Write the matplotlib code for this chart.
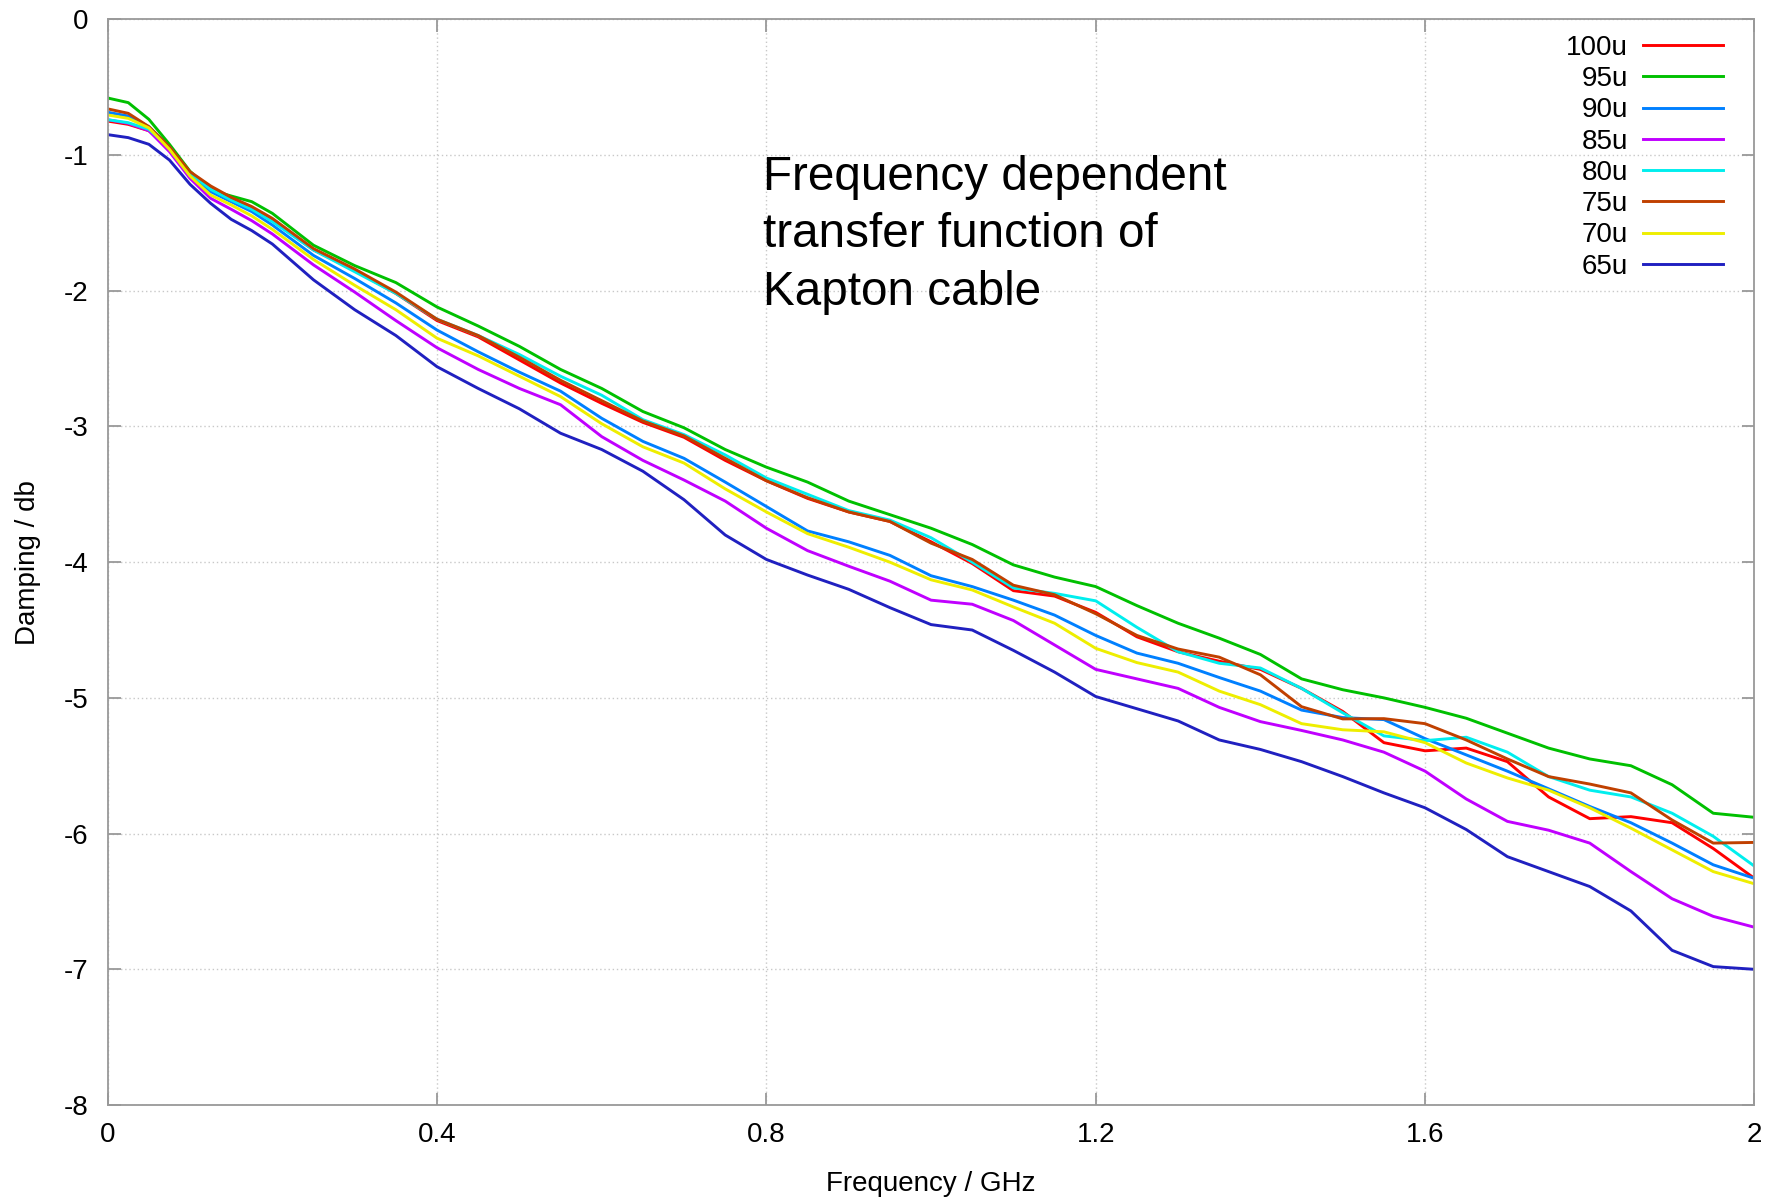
import numpy as np
import matplotlib
matplotlib.use("Agg")
import matplotlib.pyplot as plt

plt.rcParams['font.family'] = ['Liberation Sans', 'DejaVu Sans']
plt.rcParams['axes.unicode_minus'] = False

# frequency (GHz) the curves were read at: finer near the start
freq = [0, 0.025, 0.05, 0.075, 0.1, 0.125, 0.15, 0.175, 0.2,
        0.25, 0.3, 0.35, 0.4, 0.45, 0.5, 0.55, 0.6, 0.65, 0.7, 0.75,
        0.8, 0.85, 0.9, 0.95, 1.0, 1.05, 1.1, 1.15, 1.2, 1.25,
        1.3, 1.35, 1.4, 1.45, 1.5, 1.55, 1.6, 1.65, 1.7, 1.75,
        1.8, 1.85, 1.9, 1.95, 2.0]

d100 = [-0.75, -0.774, -0.821, -0.951, -1.13, -1.238, -1.32, -1.388, -1.479,
        -1.70, -1.85, -2.02, -2.22, -2.34, -2.51, -2.68, -2.83, -2.97, -3.08, -3.25,
        -3.40, -3.53, -3.63, -3.70, -3.85, -4.01, -4.21, -4.25, -4.37, -4.55,
        -4.66, -4.73, -4.79, -4.93, -5.10, -5.33, -5.39, -5.37, -5.47, -5.73,
        -5.89, -5.875, -5.92, -6.11, -6.33]
d95 = [-0.58, -0.614, -0.737, -0.921, -1.12, -1.258, -1.302, -1.344, -1.43,
       -1.665, -1.815, -1.94, -2.12, -2.26, -2.41, -2.58, -2.72, -2.89, -3.01, -3.17,
       -3.30, -3.41, -3.55, -3.65, -3.75, -3.87, -4.02, -4.11, -4.18, -4.32,
       -4.45, -4.56, -4.68, -4.86, -4.94, -5.00, -5.07, -5.15, -5.26, -5.37,
       -5.45, -5.50, -5.64, -5.85, -5.88]
d90 = [-0.685, -0.713, -0.791, -0.943, -1.14, -1.27, -1.344, -1.417, -1.516,
       -1.74, -1.91, -2.09, -2.29, -2.45, -2.60, -2.74, -2.94, -3.11, -3.235, -3.41,
       -3.59, -3.77, -3.85, -3.95, -4.10, -4.18, -4.28, -4.39, -4.54, -4.67,
       -4.745, -4.85, -4.95, -5.09, -5.145, -5.16, -5.30, -5.42, -5.54, -5.67,
       -5.80, -5.92, -6.07, -6.23, -6.33]
d85 = [-0.74, -0.767, -0.821, -0.975, -1.172, -1.319, -1.40, -1.484, -1.582,
       -1.81, -2.01, -2.22, -2.42, -2.58, -2.72, -2.84, -3.075, -3.25, -3.395, -3.55,
       -3.75, -3.915, -4.03, -4.14, -4.28, -4.31, -4.43, -4.61, -4.79, -4.86,
       -4.93, -5.07, -5.175, -5.24, -5.31, -5.40, -5.54, -5.745, -5.91, -5.975,
       -6.07, -6.28, -6.48, -6.61, -6.69]
d80 = [-0.74, -0.762, -0.811, -0.943, -1.135, -1.253, -1.332, -1.40, -1.491,
       -1.70, -1.86, -2.02, -2.21, -2.33, -2.47, -2.63, -2.77, -2.95, -3.06, -3.21,
       -3.38, -3.50, -3.62, -3.69, -3.82, -4.00, -4.19, -4.23, -4.285, -4.48,
       -4.66, -4.745, -4.78, -4.93, -5.11, -5.28, -5.315, -5.29, -5.40, -5.58,
       -5.68, -5.73, -5.85, -6.02, -6.24]
d75 = [-0.66, -0.693, -0.791, -0.939, -1.123, -1.228, -1.312, -1.38, -1.467,
       -1.69, -1.84, -2.01, -2.21, -2.33, -2.49, -2.66, -2.81, -2.96, -3.07, -3.235,
       -3.40, -3.525, -3.63, -3.70, -3.86, -3.98, -4.17, -4.24, -4.38, -4.54,
       -4.64, -4.70, -4.83, -5.065, -5.155, -5.153, -5.19, -5.31, -5.45, -5.58,
       -5.635, -5.70, -5.90, -6.07, -6.065]
d70 = [-0.705, -0.73, -0.80, -0.958, -1.155, -1.295, -1.368, -1.449, -1.548,
       -1.77, -1.96, -2.14, -2.35, -2.48, -2.63, -2.78, -2.98, -3.15, -3.27, -3.46,
       -3.63, -3.79, -3.89, -4.00, -4.13, -4.205, -4.33, -4.45, -4.635, -4.74,
       -4.81, -4.95, -5.05, -5.19, -5.235, -5.25, -5.33, -5.48, -5.59, -5.68,
       -5.81, -5.96, -6.12, -6.28, -6.37]
d65 = [-0.85, -0.872, -0.921, -1.037, -1.216, -1.356, -1.474, -1.557, -1.656,
       -1.92, -2.14, -2.33, -2.56, -2.72, -2.87, -3.05, -3.17, -3.33, -3.54, -3.80,
       -3.98, -4.095, -4.20, -4.335, -4.46, -4.50, -4.65, -4.81, -4.99, -5.08,
       -5.17, -5.31, -5.38, -5.47, -5.58, -5.70, -5.81, -5.97, -6.17, -6.28,
       -6.39, -6.57, -6.86, -6.98, -7.00]

labels = ['100u', '95u', '90u', '85u', '80u', '75u', '70u', '65u']
series = [d100, d95, d90, d85, d80, d75, d70, d65]
colors = ['#ff0000', '#00c000', '#0080ff', '#c000ff',
          '#00eeee', '#c04000', '#eeee00', '#2020c0']

xticks = [0, 0.4, 0.8, 1.2, 1.6, 2.0]
xticklabels = ['0', '0.4', '0.8', '1.2', '1.6', '2']
yticks = [0, -1, -2, -3, -4, -5, -6, -7, -8]
yticklabels = ['0', '-1', '-2', '-3', '-4', '-5', '-6', '-7', '-8']

fig = plt.figure(figsize=(17.77, 11.98), dpi=100)
ax = fig.add_axes([0.0606, 0.0776, 0.9267, 0.9063])

for lab, ys, c in zip(labels, series, colors):
    ax.plot(freq, ys, color=c, lw=2.1, label=lab, solid_joinstyle='round')

ax.set_xlim(0, 2)
ax.set_ylim(-8, 0)
ax.set_xticks(xticks)
ax.set_xticklabels(xticklabels)
ax.set_yticks(yticks)
ax.set_yticklabels(yticklabels)

ax.grid(True, color='#c8c8c8', linestyle=(0, (1, 2)), linewidth=1.0)
for sp in ax.spines.values():
    sp.set_color('#999999')
    sp.set_linewidth(1.3)
ax.tick_params(direction='in', length=9, width=1.3, color='#999999',
               top=True, right=True, labelsize=20)
ax.tick_params(axis='y', pad=14)
ax.tick_params(axis='x', pad=12)

ax.set_xlabel('Frequency / GHz', fontsize=20, labelpad=17)
ax.set_ylabel('Damping / db', fontsize=20, labelpad=16)

ax.text(0.398, 0.875, 'Frequency dependent\ntransfer function of\nKapton cable',
        transform=ax.transAxes, fontsize=34.3, va='top', ha='left',
        linespacing=1.35)

leg = ax.legend(loc='upper right', bbox_to_anchor=(0.9807, 0.9858),
                markerfirst=False, frameon=False, fontsize=20,
                handlelength=2.85, labelspacing=0.19, handletextpad=0.57,
                borderaxespad=0, borderpad=0)

fig.savefig('out.png', dpi=100)
